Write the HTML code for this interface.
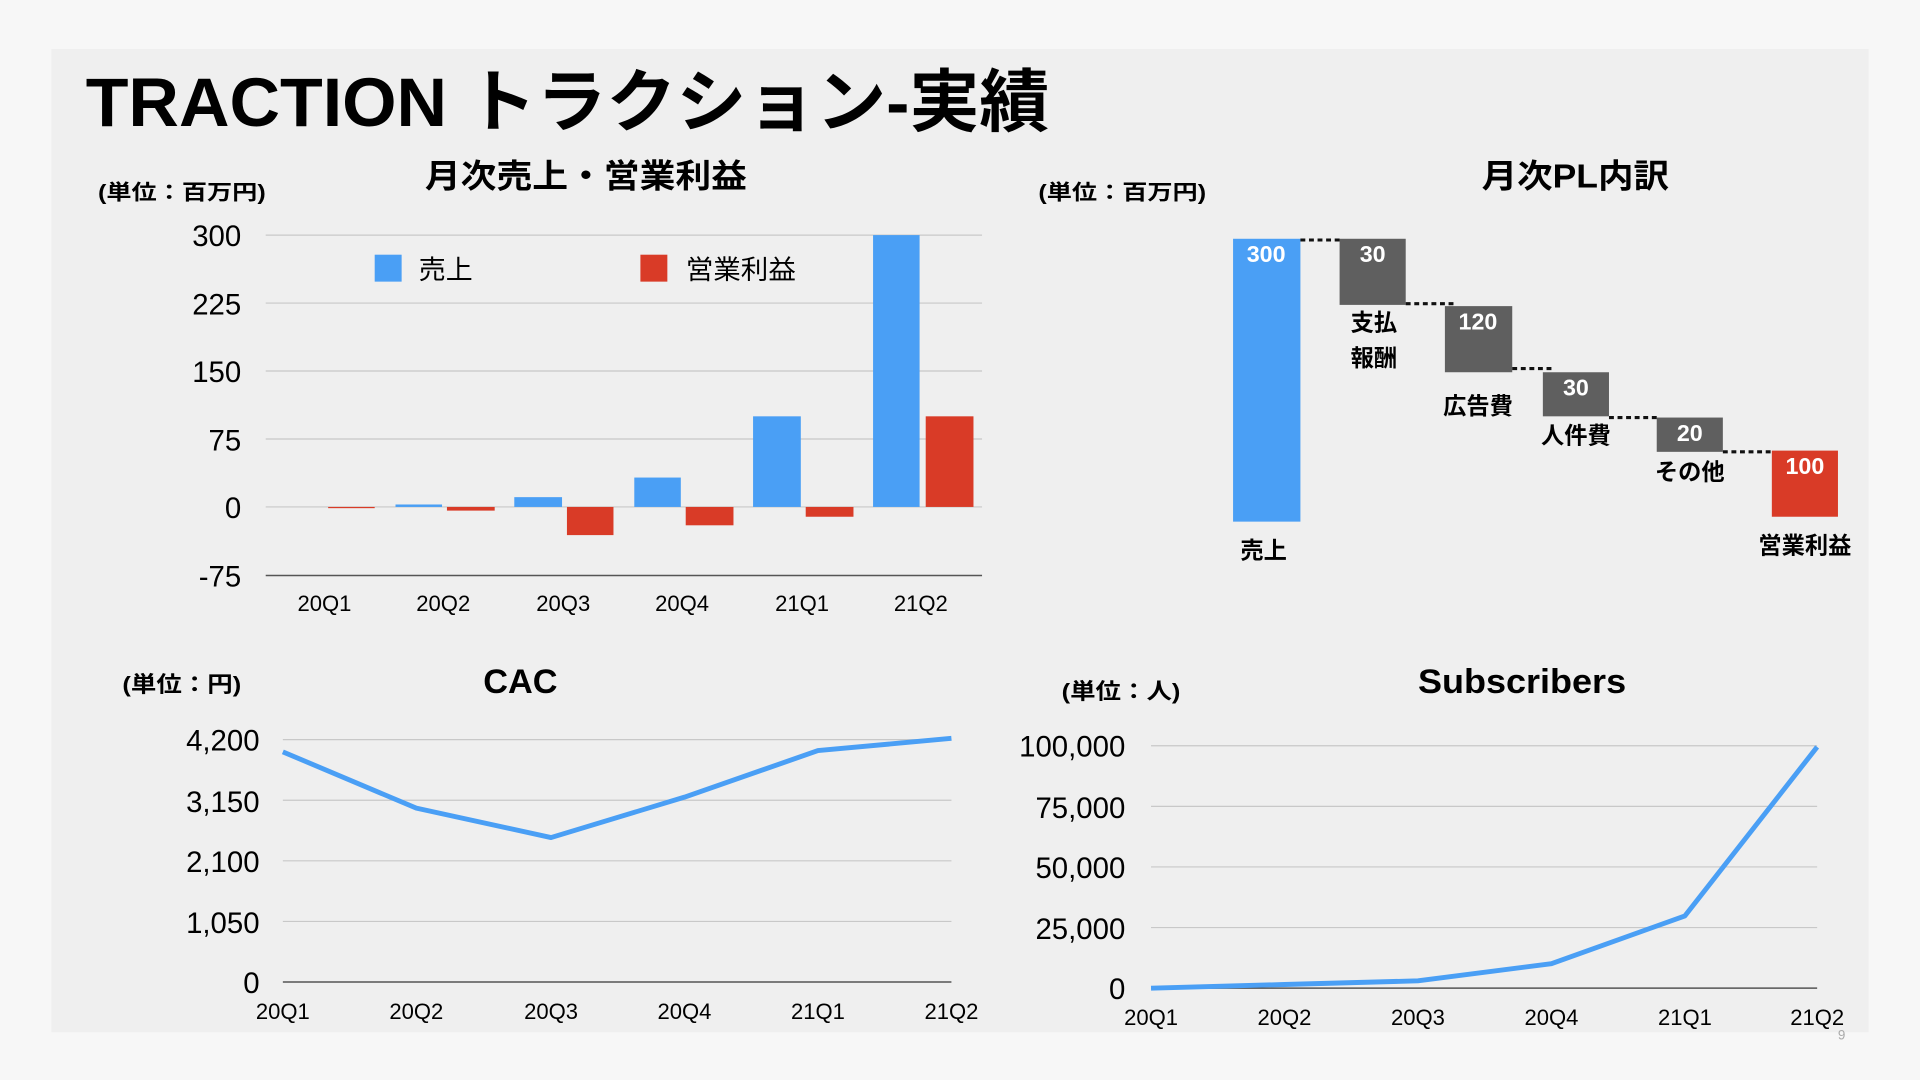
<!DOCTYPE html>
<html><head><meta charset="utf-8"><style>
html,body{margin:0;padding:0;background:#f7f7f7;}
svg{display:block;}
text{font-family:"Liberation Sans","Noto Sans CJK JP",sans-serif;}
</style></head><body>
<svg width="1920" height="1080" viewBox="0 0 1568 882" preserveAspectRatio="none" xmlns="http://www.w3.org/2000/svg">
<rect x="0" y="0" width="1568" height="882" fill="#f7f7f7"/>
<rect x="42" y="40" width="1484" height="803" fill="#efefef"/>
<text x="70" y="103" font-size="56" font-weight="bold" fill="#000" textLength="787" lengthAdjust="spacingAndGlyphs">TRACTION トラクション-実績</text>

<!-- Chart 1 -->
<text x="80" y="163" font-size="17" font-weight="bold" textLength="137" lengthAdjust="spacingAndGlyphs">(単位：百万円)</text>
<text x="347" y="153" font-size="27" font-weight="bold" textLength="263" lengthAdjust="spacingAndGlyphs">月次売上・営業利益</text>
<g stroke="#c8c8c8" stroke-width="1">
<line x1="217" y1="192" x2="802" y2="192"/><line x1="217" y1="247.5" x2="802" y2="247.5"/>
<line x1="217" y1="303" x2="802" y2="303"/><line x1="217" y1="358.5" x2="802" y2="358.5"/>
<line x1="217" y1="414" x2="802" y2="414"/>
</g>
<line x1="217" y1="470" x2="802" y2="470" stroke="#555" stroke-width="1.2"/>
<g font-size="24" text-anchor="end">
<text x="197" y="201">300</text><text x="197" y="257">225</text><text x="197" y="312">150</text>
<text x="197" y="368">75</text><text x="197" y="423">0</text><text x="197" y="479">-75</text>
</g>
<g font-size="18" text-anchor="middle">
<text x="265" y="499">20Q1</text><text x="362" y="499">20Q2</text><text x="460" y="499">20Q3</text>
<text x="557" y="499">20Q4</text><text x="655" y="499">21Q1</text><text x="752" y="499">21Q2</text>
</g>
<g fill="#4a9ff5">
<rect x="323" y="412" width="38" height="2"/><rect x="420" y="406" width="39" height="8"/>
<rect x="518" y="390" width="38" height="24"/><rect x="615" y="340" width="39" height="74"/>
<rect x="713" y="192" width="38" height="222"/>
</g>
<g fill="#d93b27">
<rect x="268" y="414" width="38" height="1"/><rect x="365" y="414" width="39" height="3"/>
<rect x="463" y="414" width="38" height="23"/><rect x="560" y="414" width="39" height="15"/>
<rect x="658" y="414" width="39" height="8"/><rect x="756" y="340" width="39" height="74"/>
</g>
<rect x="306" y="208" width="22" height="22" fill="#4a9ff5"/>
<text x="342" y="228" font-size="22">売上</text>
<rect x="523" y="208" width="22" height="22" fill="#d93b27"/>
<text x="560" y="228" font-size="22" textLength="90" lengthAdjust="spacingAndGlyphs">営業利益</text>

<!-- Waterfall -->
<text x="848" y="163" font-size="17" font-weight="bold" textLength="137" lengthAdjust="spacingAndGlyphs">(単位：百万円)</text>
<text x="1210" y="153" font-size="27" font-weight="bold" textLength="153" lengthAdjust="spacingAndGlyphs">月次PL内訳</text>
<rect x="1007" y="195" width="55" height="231" fill="#4a9ff5"/>
<rect x="1094" y="195" width="54" height="54" fill="#5f5f5f"/>
<rect x="1180" y="250" width="55" height="54" fill="#5f5f5f"/>
<rect x="1260" y="304" width="54" height="36" fill="#5f5f5f"/>
<rect x="1353" y="341" width="54" height="28" fill="#5f5f5f"/>
<rect x="1447" y="368" width="54" height="54" fill="#d93b27"/>
<g stroke="#111" stroke-width="2.5" stroke-dasharray="4,3">
<line x1="1062" y1="196" x2="1094" y2="196"/><line x1="1148" y1="248" x2="1188" y2="248"/>
<line x1="1235" y1="301" x2="1268" y2="301"/><line x1="1314" y1="341" x2="1353" y2="341"/>
<line x1="1407" y1="369" x2="1447" y2="369"/>
</g>
<g font-size="19" font-weight="bold" fill="#fff" text-anchor="middle">
<text x="1034" y="214">300</text><text x="1121" y="214">30</text><text x="1207" y="269">120</text>
<text x="1287" y="323">30</text><text x="1380" y="360">20</text><text x="1474" y="387">100</text>
</g>
<g font-size="19" font-weight="bold" text-anchor="middle">
<text x="1032" y="456">売上</text><text x="1122" y="270">支払</text><text x="1122" y="299">報酬</text>
<text x="1207" y="338">広告費</text><text x="1287" y="362">人件費</text><text x="1380" y="392">その他</text>
<text x="1474" y="452">営業利益</text>
</g>

<!-- CAC -->
<text x="100" y="565" font-size="18" font-weight="bold" textLength="97" lengthAdjust="spacingAndGlyphs">(単位：円)</text>
<text x="425" y="566" font-size="28" font-weight="bold" text-anchor="middle">CAC</text>
<g stroke="#c8c8c8" stroke-width="1">
<line x1="231" y1="604" x2="777" y2="604"/><line x1="231" y1="653.5" x2="777" y2="653.5"/>
<line x1="231" y1="703" x2="777" y2="703"/><line x1="231" y1="752.5" x2="777" y2="752.5"/>
</g>
<line x1="231" y1="802" x2="777" y2="802" stroke="#555" stroke-width="1.2"/>
<g font-size="24" text-anchor="end">
<text x="212" y="613">4,200</text><text x="212" y="663">3,150</text><text x="212" y="712">2,100</text>
<text x="212" y="762">1,050</text><text x="212" y="811">0</text>
</g>
<g font-size="18" text-anchor="middle">
<text x="231" y="832">20Q1</text><text x="340" y="832">20Q2</text><text x="450" y="832">20Q3</text>
<text x="559" y="832">20Q4</text><text x="668" y="832">21Q1</text><text x="777" y="832">21Q2</text>
</g>
<polyline points="231,614 340,660 450,684 559,651 668,613 777,603" fill="none" stroke="#4a9ff5" stroke-width="4" stroke-linejoin="round"/>

<!-- Subscribers -->
<text x="867" y="571" font-size="18" font-weight="bold" textLength="97" lengthAdjust="spacingAndGlyphs">(単位：人)</text>
<text x="1243" y="566" font-size="28" font-weight="bold" text-anchor="middle" textLength="170" lengthAdjust="spacingAndGlyphs">Subscribers</text>
<g stroke="#c8c8c8" stroke-width="1">
<line x1="940" y1="609" x2="1484" y2="609"/><line x1="940" y1="658.5" x2="1484" y2="658.5"/>
<line x1="940" y1="708" x2="1484" y2="708"/><line x1="940" y1="757.5" x2="1484" y2="757.5"/>
</g>
<line x1="940" y1="807" x2="1484" y2="807" stroke="#555" stroke-width="1.2"/>
<g font-size="24" text-anchor="end">
<text x="919" y="618">100,000</text><text x="919" y="668">75,000</text><text x="919" y="717">50,000</text>
<text x="919" y="767">25,000</text><text x="919" y="816">0</text>
</g>
<g font-size="18" text-anchor="middle">
<text x="940" y="837">20Q1</text><text x="1049" y="837">20Q2</text><text x="1158" y="837">20Q3</text>
<text x="1267" y="837">20Q4</text><text x="1376" y="837">21Q1</text><text x="1484" y="837">21Q2</text>
</g>
<polyline points="940,807 1049,804 1158,801 1267,787 1376,748 1484,610" fill="none" stroke="#4a9ff5" stroke-width="4" stroke-linejoin="round"/>
<text x="1504" y="849" font-size="11" fill="#aaa" text-anchor="middle">9</text>
</svg>
</body></html>
